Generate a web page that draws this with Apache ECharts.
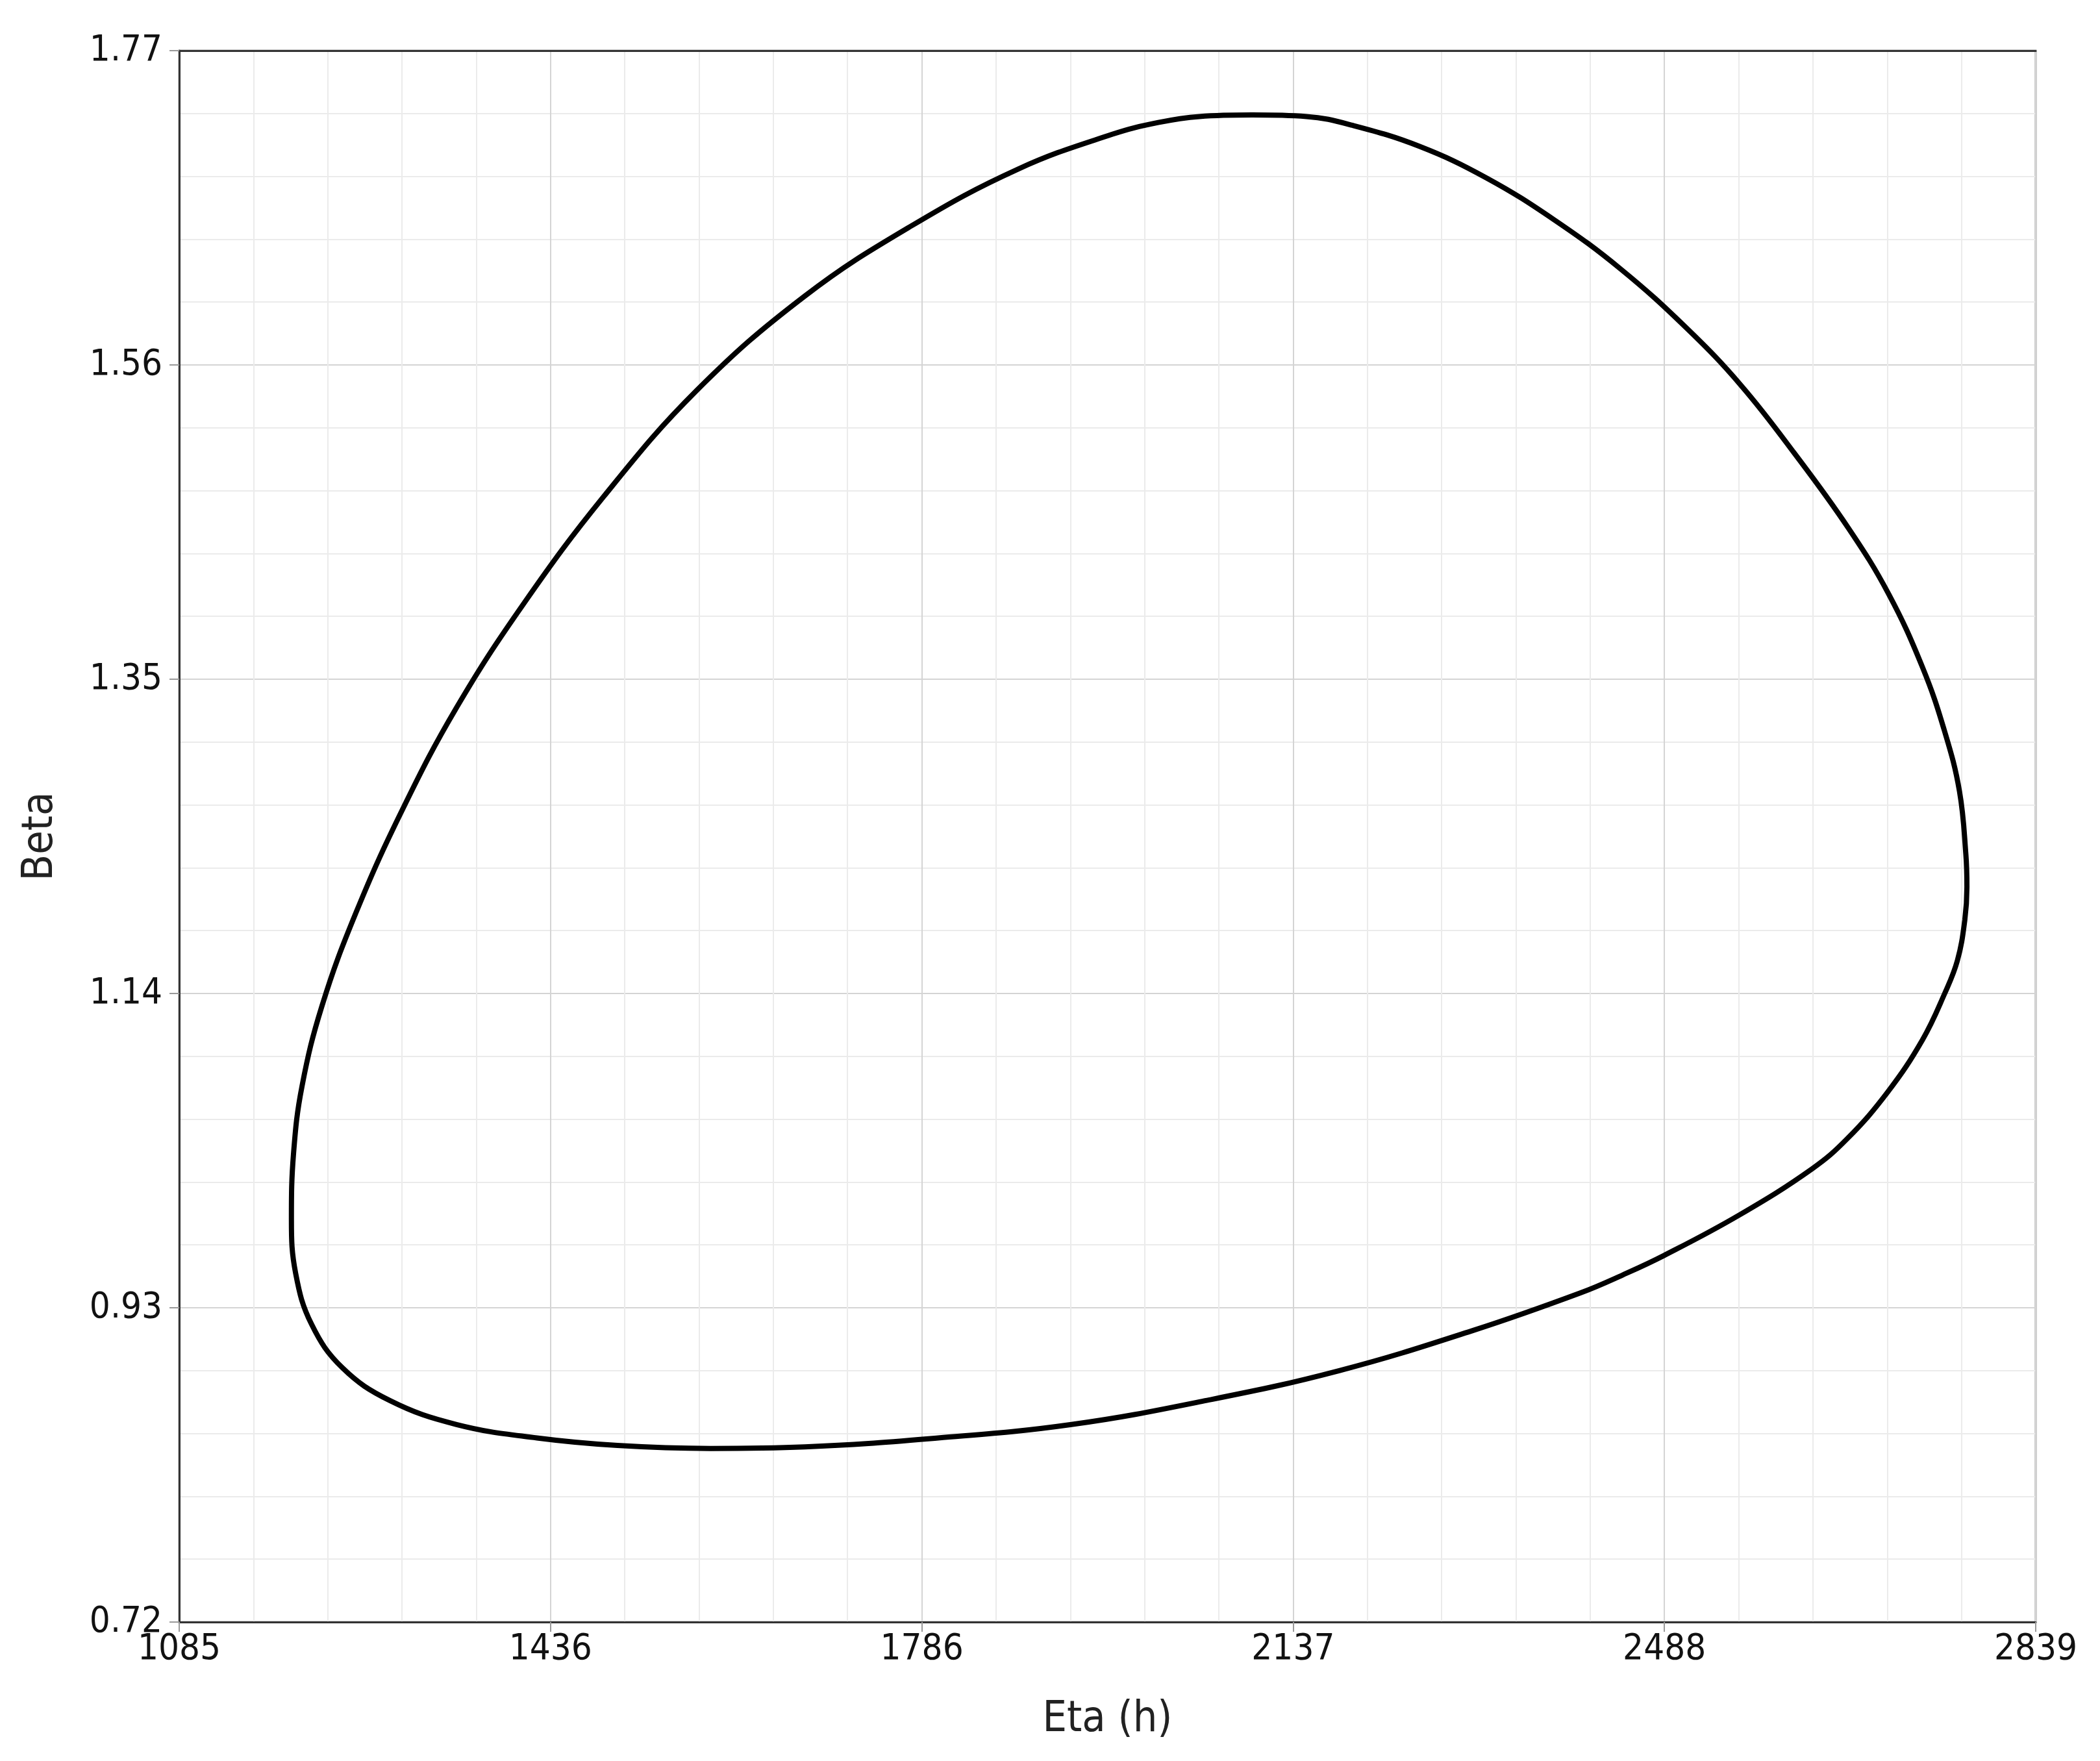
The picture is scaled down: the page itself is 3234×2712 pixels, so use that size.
<!DOCTYPE html>
<html>
<head>
<meta charset="utf-8">
<title>Eta / Beta contour</title>
<script src="https://cdn.jsdelivr.net/npm/echarts@6/dist/echarts.min.js"></script>
<style>
    html, body { margin: 0; padding: 0; background: #fff; }
    #chart { width: 3234px; height: 2712px; }
</style>
</head>
<body>
<div id="chart"></div>
<script>
// tick labels as printed on the axes
const etaTicks = [1085, 1436, 1786, 2137, 2488, 2839];
const betaTicks = [0.72, 0.93, 1.14, 1.35, 1.56, 1.77];

// contour (clockwise from the top)
const etaValues = [
    2099, 2150, 2194, 2257, 2320, 2384, 2447, 2510, 2561, 2611,
    2662, 2700, 2732, 2753, 2767, 2773, 2774, 2772, 2765, 2753,
    2732, 2699, 2661, 2628, 2559, 2488, 2449, 2409, 2308, 2181,
    2055, 1928, 1802, 1676, 1587, 1499, 1423, 1347, 1284, 1239,
    1210, 1195, 1191, 1193, 1201, 1220, 1252, 1296, 1347, 1410,
    1486, 1574, 1676, 1777, 1878, 1966, 2010, 2049, 2099
];
const betaValues = [
    1.727, 1.726, 1.720, 1.706, 1.685, 1.657, 1.624, 1.584, 1.546, 1.501,
    1.451, 1.407, 1.358, 1.315, 1.275, 1.233, 1.211, 1.189, 1.162, 1.140,
    1.109, 1.074, 1.043, 1.023, 0.992, 0.965, 0.952, 0.940, 0.915, 0.888,
    0.868, 0.852, 0.843, 0.837, 0.836, 0.838, 0.843, 0.852, 0.868, 0.890,
    0.919, 0.953, 0.989, 1.033, 1.078, 1.132, 1.194, 1.263, 1.331, 1.400,
    1.472, 1.543, 1.606, 1.653, 1.691, 1.714, 1.722, 1.726, 1.727
];

const fontFamily = "'DejaVu Sans Condensed', 'Liberation Sans', sans-serif";
const axisColor = '#333333';
const majorGrid = '#d4d4d4';
const minorGrid = '#ebebeb';

function nearestLabel(list, value, digits) {
    let best = list[0];
    list.forEach(v => {
        if (Math.abs(v - value) < Math.abs(best - value)) best = v;
    });
    return digits ? best.toFixed(digits) : String(best);
}

function buildAxis(ticks, digits) {
    const min = ticks[0];
    const max = ticks[ticks.length - 1];
    return {
        type: 'value',
        min: min,
        max: max,
        interval: (max - min) / (ticks.length - 1),
        axisLine: { show: true, lineStyle: { color: axisColor, width: 3 } },
        axisTick: { show: true, inside: false, length: 15, lineStyle: { color: '#999', width: 2 } },
        axisLabel: {
            color: '#111',
            fontSize: 56,
            fontFamily: fontFamily,
            formatter: v => nearestLabel(ticks, v, digits)
        },
        splitLine: { show: true, lineStyle: { color: majorGrid, width: 2 } },
        minorTick: { show: false, splitNumber: 5 },
        minorSplitLine: { show: true, lineStyle: { color: minorGrid, width: 2 } },
        nameTextStyle: { color: '#222', fontSize: 66, fontFamily: fontFamily }
    };
}

const chart = echarts.init(document.getElementById('chart'), null, { renderer: 'canvas' });

const xAxis = buildAxis(etaTicks, 0);
xAxis.name = 'Eta (h)';
xAxis.nameLocation = 'middle';
xAxis.nameGap = 118;
xAxis.axisLabel.margin = 14;

const yAxis = buildAxis(betaTicks, 2);
yAxis.name = 'Beta';
yAxis.nameLocation = 'middle';
yAxis.nameGap = 180;
yAxis.axisLabel.margin = 26;

// top frame line
const topAxis = {
    type: 'value',
    position: 'top',
    min: etaTicks[0],
    max: etaTicks[etaTicks.length - 1],
    axisLine: { show: true, lineStyle: { color: axisColor, width: 3 } },
    axisTick: { show: false },
    axisLabel: { show: false },
    splitLine: { show: false }
};

chart.setOption({
    backgroundColor: '#ffffff',
    animation: false,
    grid: {
        show: true,
        left: 276,
        right: 99,
        top: 78,
        bottom: 214,
        containLabel: false,
        borderColor: '#9a9a9a',
        borderWidth: 3,
        backgroundColor: 'transparent'
    },
    xAxis: [xAxis, topAxis],
    yAxis: yAxis,
    series: [{
        type: 'line',
        xAxisIndex: 0,
        data: etaValues.map((e, i) => [e, betaValues[i]]),
        showSymbol: false,
        smooth: 0.4,
        lineStyle: { color: '#000000', width: 8 },
        z: 5
    }]
});
</script>
</body>
</html>
